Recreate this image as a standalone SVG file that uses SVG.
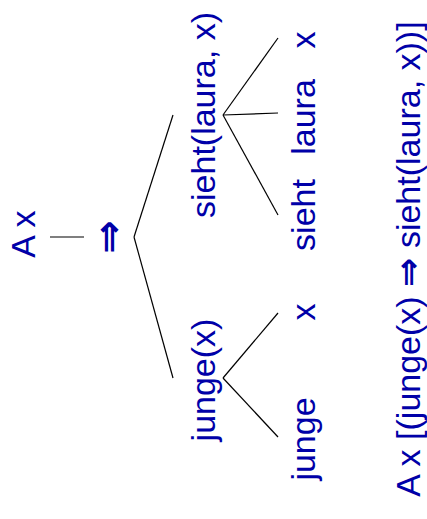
<svg xmlns="http://www.w3.org/2000/svg" width="427" height="519" viewBox="0 0 427 519">
<style>
text{font-family:"Liberation Sans",Arial,"DejaVu Sans",sans-serif;font-size:34px;fill:#0000A8;text-anchor:middle}
.arr{font-family:"DejaVu Sans",sans-serif;font-weight:bold;font-size:40px}
.arr2{font-family:"DejaVu Sans",sans-serif;font-weight:bold;font-size:35px}
.c line{stroke:#000;stroke-width:1.2}
</style>
<rect width="427" height="519" fill="#fff"/>
<g class="c" id="connectors">
<line x1="50" y1="237" x2="84" y2="237"/>
<line x1="134" y1="237" x2="173" y2="115"/>
<line x1="134" y1="237" x2="173" y2="378"/>
<line x1="223" y1="115" x2="278" y2="38"/>
<line x1="223" y1="115" x2="278" y2="113"/>
<line x1="223" y1="115" x2="278" y2="215"/>
<line x1="223" y1="378" x2="278" y2="313"/>
<line x1="223" y1="378" x2="278" y2="437"/>
</g>
<g id="quant"><text transform="translate(35,234) rotate(-90)">A x</text></g>
<g id="impl"><text class="arr" transform="translate(122,237) rotate(-90)">⇒</text></g>
<g id="sieht-node"><text transform="translate(215,115) rotate(-90)">sieht(laura, x)</text></g>
<g id="junge-node"><text transform="translate(215,380) rotate(-90)">junge(x)</text></g>
<g id="leaf-x1"><text transform="translate(315,40) rotate(-90)">x</text></g>
<g id="leaf-laura"><text transform="translate(315,117) rotate(-90)">laura</text></g>
<g id="leaf-sieht"><text transform="translate(315,215) rotate(-90)">sieht</text></g>
<g id="leaf-x2"><text transform="translate(315,312) rotate(-90)">x</text></g>
<g id="leaf-junge"><text transform="translate(315,439) rotate(-90)">junge</text></g>
<g id="result"><text transform="translate(420,259) rotate(-90)">A x [(junge(x) <tspan class="arr2">⇒</tspan> sieht(laura, x))]</text></g>
</svg>
